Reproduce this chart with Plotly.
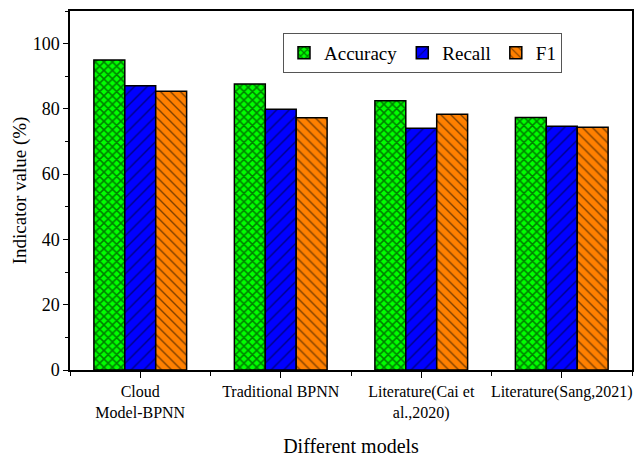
import plotly.graph_objects as go

# Model comparison: accuracy, recall and F1 per model (%)
models = ["Cloud<br>Model-BPNN", "Traditional BPNN", "Literature(Cai et<br>al.,2020)", "Literature(Sang,2021)"]
accuracy = [95.0, 87.6, 82.5, 77.4]
recall = [87.1, 79.9, 74.1, 74.7]
f1 = [85.4, 77.3, 78.4, 74.4]

x_pos = list(range(len(models)))

series = [
    ("Accuracy", accuracy, "#00FF00", "x", 6, 0.45),
    ("Recall", recall, "#0000FF", "/", 9, 0.15),
    ("F1", f1, "#FF8000", "\\", 7, 0.2),
]

FONT = "Liberation Serif"

fig = go.Figure()
for name, vals, color, shape, size, sol in series:
    fig.add_trace(go.Bar(
        name=name,
        x=x_pos,
        y=vals,
        marker=dict(
            color=color,
            line=dict(color="black", width=1.5),
            pattern=dict(shape=shape, fgcolor="black", bgcolor=color,
                         size=size, solidity=sol, fillmode="overlay"),
        ),
    ))

fig.update_layout(
    width=638,
    height=458,
    margin=dict(l=70, r=4, t=11, b=87),
    barmode="group",
    bargap=0.34,
    bargroupgap=0,
    plot_bgcolor="white",
    paper_bgcolor="white",
    font=dict(family=FONT, size=16, color="black"),
    legend=dict(
        orientation="h",
        x=0.379, y=0.939, xanchor="left", yanchor="top",
        bordercolor="#555555", borderwidth=1,
        font=dict(family=FONT, size=19, color="black"),
        bgcolor="white",
        itemwidth=30,
        tracegroupgap=0,
    ),
    showlegend=True,
)

fig.update_xaxes(
    range=[-0.5, 3.5],
    tickmode="array",
    tickvals=x_pos,
    ticktext=models,
    ticks="outside",
    ticklen=6,
    tickcolor="black",
    showline=True,
    linecolor="black",
    linewidth=1.5,
    mirror=True,
    showgrid=False,
    zeroline=False,
    minor=dict(ticks="outside", tick0=0.5, dtick=1, ticklen=4, tickcolor="black"),
    title=dict(text="Different models", standoff=18, font=dict(family=FONT, size=20, color="black")),
    tickfont=dict(family=FONT, size=16, color="black"),
)

fig.update_yaxes(
    range=[0, 110],
    tickmode="linear",
    tick0=0,
    dtick=20,
    ticks="outside",
    ticklen=5,
    tickcolor="black",
    showline=True,
    linecolor="black",
    linewidth=1.5,
    mirror=True,
    showgrid=False,
    zeroline=False,
    minor=dict(ticks="outside", tick0=0, dtick=10, ticklen=3, tickcolor="black"),
    title=dict(text="Indicator value (%)", standoff=1, font=dict(family=FONT, size=19, color="black")),
    tickfont=dict(family=FONT, size=18, color="black"),
)

fig.write_html("out.html")
